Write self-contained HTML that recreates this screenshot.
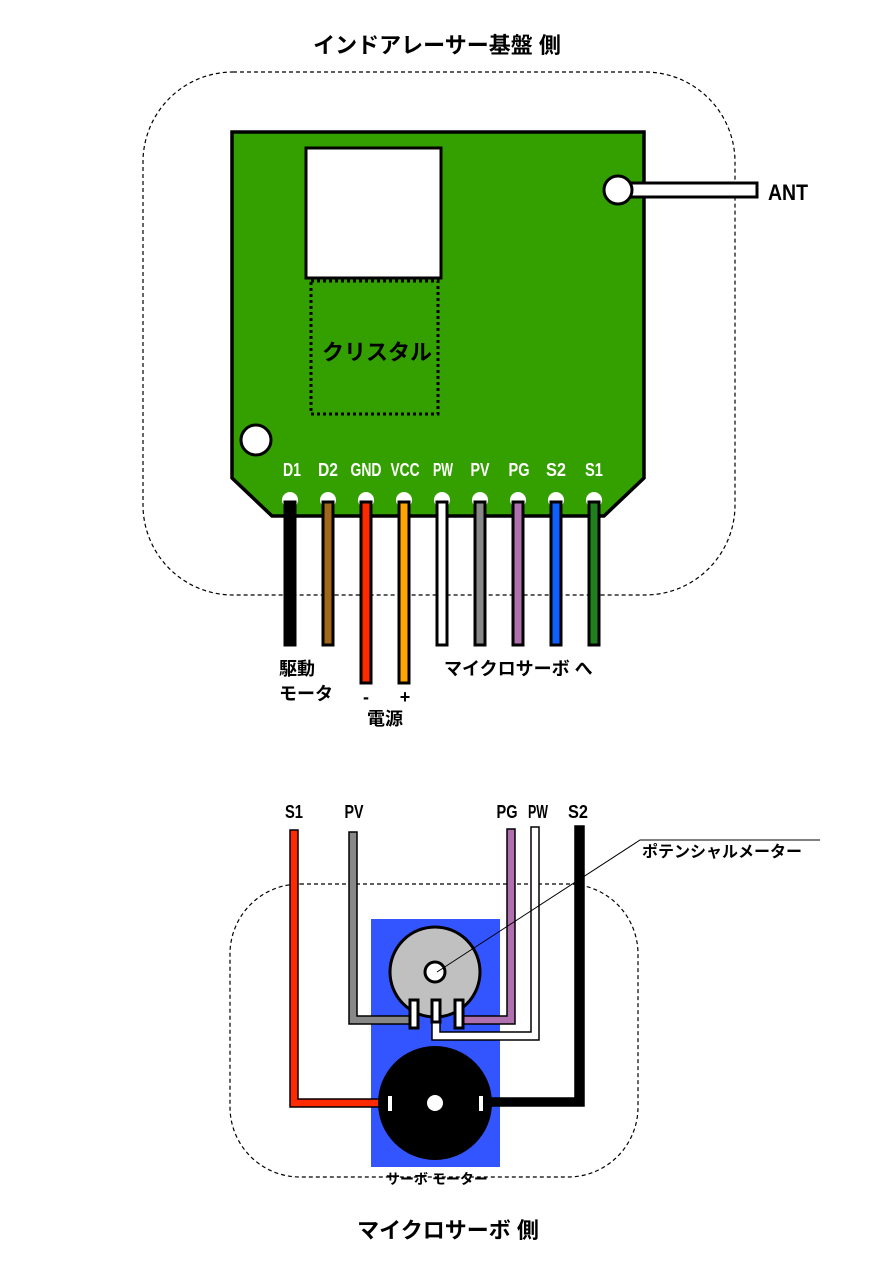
<!DOCTYPE html>
<html><head><meta charset="utf-8"><style>
html,body{margin:0;padding:0;background:#fff;}
svg text{font-family:"Liberation Sans","Noto Sans CJK JP",sans-serif;font-weight:bold;}
</style></head><body>
<svg width="891" height="1280" viewBox="0 0 891 1280" xmlns="http://www.w3.org/2000/svg">
<text x="437" y="53" font-size="22" text-anchor="middle">インドアレーサー基盤 側</text>
<rect x="143" y="72" width="592" height="523" rx="90" fill="none" stroke="#000" stroke-width="1.2" stroke-dasharray="4,3"/>
<polygon points="232,132 644,132 644,478 604,516 272,516 232,478" fill="#33a000" stroke="#000" stroke-width="3.5"/>
<rect x="306" y="148" width="135" height="130" fill="#fff" stroke="#000" stroke-width="3"/>
<rect x="311" y="281" width="127" height="133" fill="none" stroke="#000" stroke-width="3" stroke-dasharray="3,3"/>
<text x="377" y="360" font-size="22" text-anchor="middle">クリスタル</text>
<rect x="618" y="183" width="139" height="14" fill="#fff" stroke="#000" stroke-width="3"/>
<circle cx="618" cy="190" r="14" fill="#fff" stroke="#000" stroke-width="3"/>
<text x="768" y="200" font-size="22" textLength="40" lengthAdjust="spacingAndGlyphs">ANT</text>
<circle cx="256" cy="440" r="15" fill="#fff" stroke="#000" stroke-width="3"/>
<g font-size="18" fill="#fff" text-anchor="middle" font-weight="normal">
<text x="292" y="476" textLength="18" lengthAdjust="spacingAndGlyphs">D1</text>
<text x="328" y="476" textLength="20" lengthAdjust="spacingAndGlyphs">D2</text>
<text x="366" y="476" textLength="31" lengthAdjust="spacingAndGlyphs">GND</text>
<text x="405" y="476" textLength="29" lengthAdjust="spacingAndGlyphs">VCC</text>
<text x="443" y="476" textLength="20" lengthAdjust="spacingAndGlyphs">PW</text>
<text x="480" y="476" textLength="19" lengthAdjust="spacingAndGlyphs">PV</text>
<text x="519" y="476" textLength="21" lengthAdjust="spacingAndGlyphs">PG</text>
<text x="556" y="476" textLength="20" lengthAdjust="spacingAndGlyphs">S2</text>
<text x="594" y="476" textLength="18" lengthAdjust="spacingAndGlyphs">S1</text>
</g>
<g fill="#fff">
<circle cx="290" cy="500" r="8"/><circle cx="328" cy="500" r="8"/><circle cx="366" cy="500" r="8"/><circle cx="404" cy="500" r="8"/><circle cx="442" cy="500" r="8"/><circle cx="480" cy="500" r="8"/><circle cx="518" cy="500" r="8"/><circle cx="556" cy="500" r="8"/><circle cx="594" cy="500" r="8"/>
</g>
<g stroke="#000" stroke-width="3">
<rect x="285" y="502" width="10" height="143" fill="#000"/>
<rect x="323" y="502" width="10" height="143" fill="#a0661a"/>
<rect x="361" y="502" width="10" height="181" fill="#ff2a00"/>
<rect x="399" y="502" width="10" height="181" fill="#ffa500"/>
<rect x="437" y="502" width="10" height="143" fill="#fff"/>
<rect x="475" y="502" width="10" height="143" fill="#888"/>
<rect x="513" y="502" width="10" height="143" fill="#b070b0"/>
<rect x="551" y="502" width="10" height="143" fill="#1060ff"/>
<rect x="589" y="502" width="10" height="143" fill="#208020"/>
</g>
<g font-size="18" font-weight="normal">
<text x="279" y="675">駆動</text><text x="279" y="700">モータ</text>
<text x="366" y="703" text-anchor="middle">-</text><text x="405" y="703" text-anchor="middle">+</text>
<text x="385" y="725" text-anchor="middle">電源</text>
<text x="444" y="675">マイクロサーボ へ</text>
</g>

<rect x="230" y="884" width="408" height="293" rx="70" fill="none" stroke="#000" stroke-width="1.2" stroke-dasharray="4,3"/>
<rect x="371" y="919" width="129" height="248" fill="#3355ff"/>
<g font-size="18" text-anchor="middle" font-weight="normal">
<text x="294" y="818" textLength="18" lengthAdjust="spacingAndGlyphs">S1</text>
<text x="354" y="818" textLength="19" lengthAdjust="spacingAndGlyphs">PV</text>
<text x="507" y="818" textLength="21" lengthAdjust="spacingAndGlyphs">PG</text>
<text x="538" y="818" textLength="20" lengthAdjust="spacingAndGlyphs">PW</text>
<text x="578" y="818" textLength="20" lengthAdjust="spacingAndGlyphs">S2</text>
</g>
<g stroke="#000" stroke-width="1.5">
<path d="M290,830 H298 V1099 H390 V1107 H290 Z" fill="#ff2a00"/>
<path d="M349,832 H357 V1016 H415 V1024 H349 Z" fill="#888"/>
<path d="M507,829 H515 V1024 H455 V1016 H507 Z" fill="#b070b0"/>
<path d="M531,827 H539 V1040 H432 V1018 H440 V1032 H531 Z" fill="#fff"/>
<path d="M575,826 H584 V1106 H484 V1098 H575 Z" fill="#000"/>
</g>
<circle cx="435" cy="972" r="45" fill="#c0c0c0" stroke="#000" stroke-width="3"/>
<circle cx="435" cy="972" r="10" fill="#fff" stroke="#000" stroke-width="3"/>
<g fill="#fff" stroke="#000" stroke-width="3">
<rect x="410" y="1000" width="8" height="28"/><rect x="432" y="1000" width="8" height="22"/><rect x="455" y="1000" width="8" height="28"/>
</g>
<circle cx="435" cy="1103" r="57" fill="#000"/>
<circle cx="435" cy="1103" r="8" fill="#fff"/>
<rect x="388" y="1096" width="4" height="15" fill="#fff"/>
<rect x="479" y="1096" width="4" height="15" fill="#fff"/>
<polyline points="437,972 640,840 820,840" fill="none" stroke="#000" stroke-width="1"/>
<text x="722" y="857" font-size="16" text-anchor="middle" font-weight="normal">ポテンシャルメーター</text>
<text x="437" y="1184" font-size="14" text-anchor="middle" font-weight="normal">サーボ モーター</text>
<text x="448" y="1238" font-size="22" text-anchor="middle">マイクロサーボ 側</text>
</svg>
</body></html>
